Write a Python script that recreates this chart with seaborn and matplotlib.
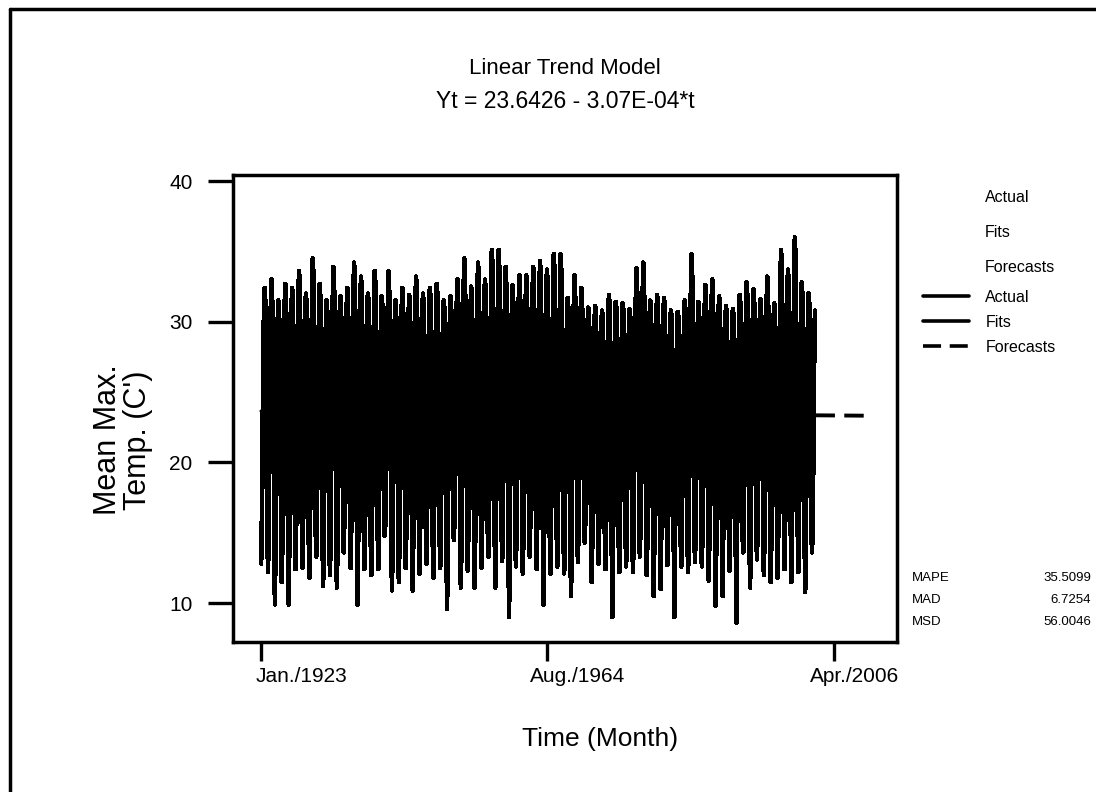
import matplotlib
matplotlib.use("Agg")
import matplotlib.pyplot as plt
import matplotlib.transforms as mtransforms
from matplotlib.lines import Line2D
import numpy as np
import pandas as pd
import seaborn as sns

# Mean max. temperature per month, Jan. 1923 onwards (one line per year)
mean_max_temp = [
    12.8, 15.1, 18.6, 23.9, 28.2, 31.0, 32.4, 31.8, 29.9, 25.6, 19.8, 14.9,
    12.2, 14.6, 18.9, 23.2, 28.6, 31.4, 33.0, 32.1, 30.2, 26.1, 20.3, 14.2,
    9.9, 13.8, 17.9, 22.8, 27.5, 30.2, 31.5, 31.1, 29.4, 25.3, 19.2, 13.9,
    11.5, 14.2, 18.3, 23.6, 28.0, 31.2, 32.7, 32.0, 30.1, 25.9, 19.6, 12.8,
    9.9, 13.5, 18.8, 24.1, 28.4, 31.0, 32.4, 31.7, 29.6, 25.4, 20.1, 14.6,
    12.4, 15.0, 19.2, 23.8, 28.9, 31.9, 33.6, 32.8, 30.5, 26.3, 20.4, 15.1,
    12.5, 14.9, 18.4, 23.3, 27.8, 30.6, 32.0, 31.4, 29.5, 25.8, 19.5, 14.4,
    11.8, 14.4, 18.7, 24.0, 29.1, 32.6, 34.5, 33.4, 30.8, 26.5, 20.0, 15.3,
    13.3, 15.6, 19.1, 23.7, 28.3, 31.1, 32.7, 31.9, 29.8, 25.7, 19.9, 14.7,
    11.2, 14.0, 18.2, 23.0, 27.6, 30.4, 31.5, 31.0, 29.3, 25.2, 19.4, 14.1,
    12.0, 14.7, 18.9, 23.9, 28.7, 32.2, 33.9, 33.0, 30.6, 26.2, 20.2, 14.8,
    11.1, 13.9, 18.5, 23.4, 27.9, 30.7, 31.8, 31.2, 29.7, 25.5, 19.7, 15.2,
    13.6, 15.8, 19.0, 23.6, 28.1, 30.9, 32.4, 31.6, 29.9, 25.9, 20.0, 14.5,
    12.5, 15.1, 19.3, 24.2, 29.0, 32.5, 34.2, 33.1, 30.7, 26.4, 20.5, 14.0,
    9.9, 13.6, 18.4, 23.5, 28.5, 31.6, 33.2, 32.4, 30.3, 26.0, 19.8, 14.6,
    12.4, 14.8, 18.6, 23.2, 27.9, 30.8, 32.0, 31.5, 29.6, 25.6, 19.6, 14.3,
    12.0, 14.5, 18.8, 23.8, 28.6, 31.8, 33.6, 32.7, 30.4, 26.2, 20.1, 15.4,
    12.4, 15.2, 18.9, 23.4, 28.0, 30.5, 31.8, 31.3, 29.5, 25.3, 19.5, 14.8,
    15.1, 16.8, 19.6, 24.0, 28.8, 31.9, 33.6, 32.6, 30.5, 26.1, 20.3, 14.2,
    10.9, 14.1, 18.3, 23.1, 27.7, 30.3, 31.5, 31.0, 29.2, 25.4, 19.3, 14.6,
    11.5, 14.3, 18.6, 23.6, 28.2, 31.0, 32.4, 31.8, 29.8, 25.8, 19.9, 15.0,
    12.5, 15.0, 18.7, 23.3, 27.8, 30.6, 31.9, 31.3, 29.6, 25.5, 19.4, 13.9,
    10.9, 13.9, 18.5, 23.7, 28.5, 31.7, 33.2, 32.3, 30.2, 26.0, 20.0, 14.7,
    12.1, 14.6, 18.4, 23.4, 28.0, 30.8, 32.0, 31.4, 29.7, 25.6, 19.7, 15.1,
    12.8, 15.3, 18.9, 23.5, 28.2, 31.1, 32.4, 31.7, 29.9, 25.8, 19.8, 14.4,
    11.8, 14.4, 18.6, 23.8, 28.3, 31.2, 32.7, 32.0, 30.0, 25.9, 20.1, 14.9,
    12.5, 14.9, 18.5, 23.2, 27.7, 30.4, 31.5, 31.1, 29.4, 25.3, 19.3, 13.8,
    9.6, 13.4, 18.1, 23.0, 27.8, 30.6, 31.8, 31.2, 29.5, 25.4, 19.6, 14.8,
    14.5, 16.3, 19.4, 23.9, 28.6, 31.5, 33.0, 32.2, 30.1, 26.0, 20.2, 14.6,
    11.1, 14.0, 18.8, 24.1, 29.2, 32.7, 34.5, 33.5, 30.9, 26.6, 20.4, 15.0,
    12.3, 14.8, 18.7, 23.5, 28.1, 31.0, 32.5, 31.8, 29.8, 25.7, 19.8, 14.5,
    11.1, 14.2, 19.0, 24.0, 29.0, 32.4, 34.2, 33.2, 30.7, 26.4, 20.3, 15.2,
    12.5, 15.0, 19.1, 23.8, 28.5, 31.6, 33.0, 32.3, 30.2, 26.1, 20.0, 14.9,
    13.3, 15.7, 19.5, 24.5, 29.6, 33.2, 35.1, 34.0, 31.2, 26.8, 20.6, 14.7,
    11.1, 14.3, 19.2, 24.4, 29.5, 33.1, 35.1, 33.8, 31.0, 26.7, 20.5, 15.3,
    13.0, 15.4, 19.3, 24.1, 28.9, 32.1, 33.9, 32.9, 30.6, 26.3, 20.2, 14.1,
    9.0, 13.2, 18.3, 23.6, 28.2, 31.1, 32.6, 31.9, 29.9, 25.7, 19.7, 14.6,
    12.6, 15.1, 19.0, 23.9, 28.6, 31.7, 33.3, 32.5, 30.3, 26.1, 20.0, 14.8,
    12.1, 14.7, 18.8, 23.7, 28.5, 31.6, 33.3, 32.4, 30.2, 26.0, 19.9, 15.0,
    13.3, 15.6, 19.2, 24.0, 28.8, 32.0, 33.9, 33.0, 30.5, 26.3, 20.3, 14.4,
    12.4, 15.0, 19.1, 24.2, 29.1, 32.5, 34.3, 33.2, 30.7, 26.4, 20.1, 14.2,
    9.9, 13.7, 18.7, 23.9, 28.8, 32.0, 33.7, 32.8, 30.4, 26.2, 20.0, 14.7,
    12.1, 14.8, 19.3, 24.4, 29.4, 33.0, 34.8, 33.7, 31.0, 26.6, 20.4, 15.1,
    12.6, 15.2, 19.4, 24.3, 29.3, 32.9, 34.8, 33.6, 30.9, 26.5, 20.2, 14.5,
    12.1, 14.5, 18.4, 23.2, 27.8, 30.5, 31.7, 31.2, 29.5, 25.4, 19.5, 14.0,
    10.5, 13.8, 18.6, 23.8, 28.5, 31.7, 33.3, 32.4, 30.2, 26.0, 19.9, 15.0,
    12.9, 15.3, 18.9, 23.6, 28.1, 31.0, 32.4, 31.8, 29.9, 25.8, 20.0, 15.5,
    14.3, 16.0, 19.0, 23.3, 27.6, 30.0, 31.0, 30.6, 29.2, 25.3, 19.4, 14.3,
    11.5, 14.2, 18.3, 23.1, 27.6, 30.1, 31.1, 30.7, 29.1, 25.2, 19.5, 14.8,
    12.8, 15.0, 18.5, 23.0, 27.4, 29.8, 30.8, 30.4, 28.9, 25.0, 19.3, 14.2,
    12.4, 14.7, 18.6, 23.4, 27.9, 30.6, 31.9, 31.3, 29.6, 25.6, 19.6, 13.6,
    9.0, 13.1, 18.0, 23.0, 27.6, 30.2, 31.4, 30.9, 29.3, 25.3, 19.4, 14.5,
    12.2, 14.6, 18.4, 23.2, 27.7, 30.2, 31.3, 30.9, 29.2, 25.2, 19.5, 14.9,
    12.6, 15.0, 18.5, 23.1, 27.5, 29.9, 30.9, 30.5, 29.0, 25.1, 19.3, 14.3,
    12.2, 14.8, 19.0, 24.0, 28.9, 32.1, 33.8, 32.9, 30.5, 26.2, 20.1, 14.6,
    13.3, 15.6, 19.3, 24.2, 29.1, 32.4, 34.2, 33.1, 30.7, 26.4, 20.3, 14.4,
    12.0, 14.5, 18.4, 23.3, 27.7, 30.4, 31.5, 31.0, 29.4, 25.4, 19.6, 13.9,
    10.5, 13.7, 18.3, 23.4, 27.9, 30.7, 31.9, 31.3, 29.6, 25.5, 19.7, 14.7,
    11.0, 14.0, 18.5, 23.3, 27.8, 30.5, 31.7, 31.2, 29.5, 25.5, 19.5, 14.9,
    12.7, 15.0, 18.6, 23.1, 27.4, 29.8, 30.8, 30.4, 29.0, 25.1, 19.2, 14.1,
    9.0, 13.0, 17.9, 22.8, 27.3, 29.7, 30.7, 30.3, 28.9, 25.0, 19.3, 14.6,
    12.6, 14.9, 18.5, 23.2, 27.7, 30.4, 31.5, 31.0, 29.4, 25.4, 19.6, 14.4,
    12.2, 14.9, 19.3, 24.4, 29.4, 33.0, 34.8, 33.7, 31.0, 26.6, 20.4, 15.0,
    12.9, 15.2, 18.6, 23.2, 27.6, 30.2, 31.4, 30.9, 29.3, 25.3, 19.5, 14.3,
    12.6, 15.0, 18.8, 23.6, 28.2, 31.1, 32.6, 31.9, 29.9, 25.8, 19.9, 14.8,
    11.6, 14.4, 18.8, 23.8, 28.5, 31.5, 33.0, 32.2, 30.1, 26.0, 20.0, 14.2,
    9.8, 13.5, 18.2, 23.3, 27.9, 30.6, 31.8, 31.2, 29.5, 25.5, 19.6, 14.6,
    10.5, 13.8, 18.3, 23.1, 27.6, 30.1, 31.1, 30.7, 29.2, 25.2, 19.4, 14.9,
    12.3, 14.7, 18.4, 23.0, 27.5, 29.9, 30.9, 30.5, 29.0, 25.1, 19.3, 14.0,
    8.6, 12.9, 18.0, 23.2, 27.8, 30.6, 31.9, 31.3, 29.6, 25.5, 19.7, 14.7,
    13.6, 15.8, 19.1, 23.7, 28.3, 31.3, 32.8, 32.0, 30.0, 25.9, 19.9, 14.5,
    11.1, 14.1, 18.6, 23.5, 28.1, 30.9, 32.3, 31.7, 29.8, 25.7, 19.8, 15.0,
    13.1, 15.4, 18.8, 23.3, 27.7, 30.4, 31.6, 31.1, 29.4, 25.4, 19.6, 14.4,
    12.0, 14.6, 18.9, 23.8, 28.6, 31.7, 33.2, 32.4, 30.2, 26.0, 20.0, 14.3,
    11.5, 14.3, 18.4, 23.1, 27.6, 30.2, 31.3, 30.9, 29.3, 25.3, 19.5, 14.8,
    11.8, 14.7, 19.4, 24.6, 29.6, 33.3, 35.1, 34.0, 31.2, 26.8, 20.5, 15.1,
    12.4, 15.0, 19.1, 24.1, 28.9, 32.1, 33.7, 32.8, 30.4, 26.2, 20.1, 14.6,
    11.5, 14.6, 19.6, 24.9, 30.0, 33.9, 36.0, 34.7, 31.6, 27.0, 20.6, 15.2,
    12.2, 14.8, 18.9, 23.7, 28.4, 31.3, 32.8, 32.0, 30.0, 25.9, 19.9, 14.5,
    10.8, 14.0, 18.5, 23.4, 28.0, 30.8, 32.0, 31.4, 29.7, 25.6, 19.7, 14.9,
    13.6, 15.9, 19.2, 23.8, 28.4, 30.8,
]

# Linear trend model  Yt = 23.6426 - 3.07E-04*t
trend_intercept = 23.6426
trend_slope = -3.07e-04
n_forecast = 87

tick_periods = [1, 500, 1000]
tick_labels = ["Jan./1923", "Aug./1964", "Apr./2006"]

accuracy_names = ["MAPE", "MAD", "MSD"]
accuracy_values = [35.5099, 6.7254, 56.0046]

W, H = 1096, 792

sns.set_theme(style="white")
plt.rcParams["font.family"] = ["Liberation Sans", "DejaVu Sans"]
plt.rcParams.update({"text.color": "black", "axes.labelcolor": "black",
                     "xtick.color": "black", "ytick.color": "black",
                     "path.simplify": False})

t = np.arange(1, len(mean_max_temp) + 1)
actual = pd.DataFrame({"t": t, "temp": mean_max_temp})
fits = pd.DataFrame({"t": [t[0], t[-1]],
                     "fit": [trend_intercept + trend_slope * t[0],
                             trend_intercept + trend_slope * t[-1]]})
t_fc = [t[-1] + 1, t[-1] + n_forecast]
forecast = pd.DataFrame({"t": t_fc,
                         "fc": [trend_intercept + trend_slope * v for v in t_fc]})

fig = plt.figure(figsize=(W / 100, H / 100), dpi=100)
ax = fig.add_axes([233 / W, 1 - 642 / H, (897 - 233) / W, (642 - 175) / H])

sns.lineplot(data=fits, x="t", y="fit", ax=ax, color="black", lw=2.4,
             errorbar=None, legend=False)
sns.lineplot(data=actual, x="t", y="temp", ax=ax, color="black", lw=2.6,
             errorbar=None, legend=False, antialiased=False)
sns.lineplot(data=forecast, x="t", y="fc", ax=ax, color="black", lw=2.8,
             linestyle=(0, (5.0, 2.4)), errorbar=None, legend=False)

ax.set_xlim(-48, 1109)
ax.set_ylim(7.23, 40.43)
ax.set_yticks([10, 20, 30, 40])
ax.set_xticks(tick_periods)
ax.set_xticklabels(tick_labels, fontsize=15)
ax.tick_params(axis="y", direction="out", length=18, width=2.4, pad=11,
               labelsize=15, colors="black", left=True)
ax.tick_params(axis="x", direction="out", length=14, width=2.4, pad=4,
               labelsize=15, colors="black", bottom=True)
# labels sit a bit to the right of their ticks
for lab, dx in zip(ax.get_xticklabels(), [40, 30, 20]):
    lab.set_transform(lab.get_transform() +
                      mtransforms.ScaledTranslation(dx / 100, 0, fig.dpi_scale_trans))

for sp in ax.spines.values():
    sp.set_visible(True)
    sp.set_color("black")
    sp.set_linewidth(2.5)

ax.set_xlabel("Time (Month)", fontsize=19)
ax.xaxis.set_label_coords((600 - 233) / 664, (642 - 727) / 467)
ax.set_ylabel("Mean Max.\nTemp. (C')", fontsize=22, multialignment="center",
              linespacing=1.0)
ax.yaxis.set_label_coords((153 - 233) / 664, (642 - 440) / 467)

fig.text(565 / W, 1 - 68 / H, "Linear Trend Model", ha="center", va="center",
         fontsize=16)
fig.text(565 / W, 1 - 102 / H, "Yt = 23.6426 - 3.07E-04*t", ha="center",
         va="center", fontsize=16.5)

# legend
for lab, y in zip(["Actual", "Fits", "Forecasts"], [197, 233, 268]):
    fig.text(985 / W, 1 - y / H, lab, ha="left", va="center", fontsize=11.5)
handles = [Line2D([], [], color="black", lw=2.6),
           Line2D([], [], color="black", lw=2.6),
           Line2D([], [], color="black", lw=2.6, linestyle=(0, (5.0, 2.4)))]
fig.legend(handles, ["Actual", "Fits", "Forecasts"], loc="upper left",
           bbox_to_anchor=(923 / W, 1 - 290 / H), frameon=False, fontsize=11.5,
           handlelength=2.9, handletextpad=1.0, labelspacing=0.62,
           borderpad=0, borderaxespad=0)

# accuracy measures
for name, val, y in zip(accuracy_names, accuracy_values, [578, 600, 622]):
    fig.text(912 / W, 1 - y / H, name, ha="left", va="center", fontsize=9.5)
    fig.text(1091 / W, 1 - y / H, f"{val:.4f}", ha="right", va="center",
             fontsize=9.5)

# page frame (only left and top edges fall inside the image)
fig.add_artist(Line2D([10 / W, 10 / W], [0, 1 - 9 / H], transform=fig.transFigure,
                      color="black", lw=2.5))
fig.add_artist(Line2D([10 / W, 1], [1 - 9 / H, 1 - 9 / H], transform=fig.transFigure,
                      color="black", lw=2.5))

fig.savefig("out.png", dpi=100, facecolor="white")
